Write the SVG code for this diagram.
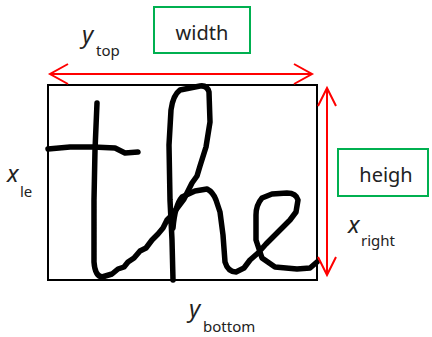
<svg xmlns="http://www.w3.org/2000/svg" width="432" height="337" viewBox="0 0 432 337">
<style>
.lbl{font-family:"Noto Sans","Liberation Sans",sans-serif;fill:#222;}
.box{fill:none;stroke:#00b050;stroke-width:2;}
.red{fill:none;stroke:#ff0000;stroke-width:2;}
.ink{fill:none;stroke:#000;stroke-width:5.5;stroke-linecap:round;stroke-linejoin:round;}
</style>
<rect width="432" height="337" fill="#fff"/>
<g id="frame">
<rect x="48" y="85" width="269" height="195" fill="none" stroke="#000" stroke-width="2"/>
</g>
<g id="handwriting">
<path class="ink" d="M48,149 L70,147 L93,147 L115,148 L125,153 L138,152"/>
<path class="ink" d="M97,103 L95,150 L94,200 L94,262 Q95,276 102,277 L112,274 L118,269 L124,267 L128,262 L134,258 L140,251 L146,248 L152,240 L158,234 L163,228 L167,220 L172,215 L178,207 L184,199 L192,183 L197,176 L200,166 L206,147 L210,122 L209,92 Q207,85 200,86 L180,90 Q173,95 171,110 L169,145 L170,200 L172,240 L173,280"/>
<path class="ink" d="M173,228 Q175,205 182,197 L195,191 L207,189 Q213,192 216,200 L220,212 L223,235 L225,262 Q228,272 236,272 L244,268 L250,260 L258,253 L266,244 L272,238 L285,225 L290,220 L296,212 L298,200 Q296,193 287,193 L272,194 L262,198 Q256,205 256,215 L256,240 L262,258 L275,267 L297,269 L310,268 L317,262"/>
</g>
<g id="connectors">
<line class="red" x1="50" y1="74" x2="312" y2="74"/>
<polyline class="red" points="68,64 50,74 68,84"/>
<polyline class="red" points="294,64 312,74 294,84"/>
<line class="red" x1="327" y1="88" x2="327" y2="275"/>
<polyline class="red" points="318,106 327,88 336,106"/>
<polyline class="red" points="318,257 327,275 336,257"/>
</g>
<g id="width">
<rect class="box" x="154" y="7" width="96" height="46"/>
<text class="lbl" x="202" y="40" font-size="20" text-anchor="middle">width</text>
</g>
<g id="heigh">
<rect class="box" x="338" y="149" width="90" height="47"/>
<text class="lbl" x="386" y="182" font-size="20" text-anchor="middle">heigh</text>
</g>
<g id="ytop">
<text class="lbl" x="82" y="43" font-size="24" font-style="italic">y</text>
<text class="lbl" x="96" y="56" font-size="15">top</text>
</g>
<g id="xle">
<text class="lbl" x="7" y="182" font-size="24" font-style="italic">x</text>
<text class="lbl" x="20" y="197" font-size="15">le</text>
</g>
<g id="xright">
<text class="lbl" x="348" y="233" font-size="24" font-style="italic">x</text>
<text class="lbl" x="361" y="246" font-size="15">right</text>
</g>
<g id="ybottom">
<text class="lbl" x="189" y="317" font-size="24" font-style="italic">y</text>
<text class="lbl" x="203" y="332" font-size="15">bottom</text>
</g>
</svg>
